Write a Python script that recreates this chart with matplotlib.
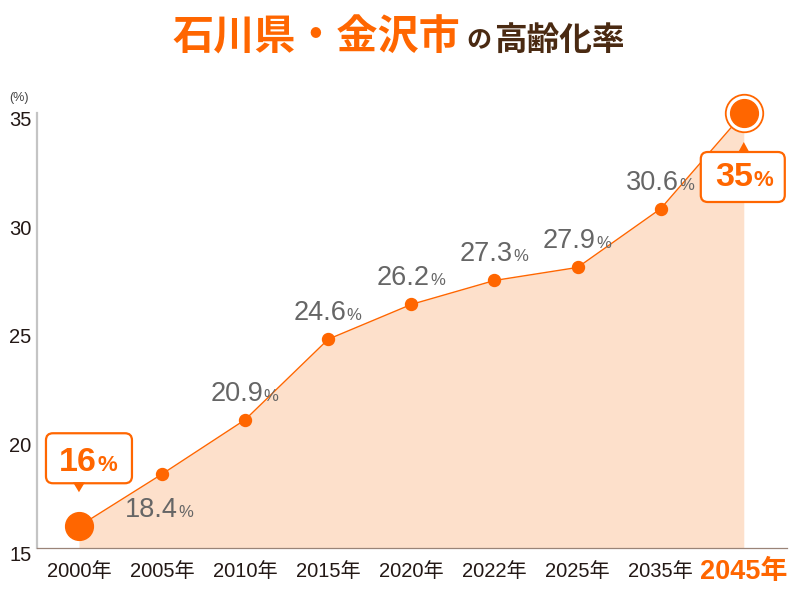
import matplotlib
matplotlib.use("Agg")
import matplotlib.pyplot as plt
from matplotlib.patches import FancyBboxPatch, Polygon
from matplotlib.transforms import ScaledTranslation

plt.rcParams['font.family'] = ['Liberation Sans', 'Noto Sans CJK JP', 'DejaVu Sans']

years = ["2000年", "2005年", "2010年", "2015年", "2020年", "2022年", "2025年", "2035年", "2045年"]
rates = [16.0, 18.4, 20.9, 24.6, 26.2, 27.3, 27.9, 30.6, 35.0]
labels = ["16", "18.4", "20.9", "24.6", "26.2", "27.3", "27.9", "30.6", "35"]
yticks = [15, 20, 25, 30, 35]

ORANGE = '#ff6600'
FILL = '#fde0cb'
GRAY = '#666666'
BROWN = '#4a2a12'

W, H = 796, 597
fig = plt.figure(figsize=(W / 100, H / 100), dpi=100)
ax = fig.add_axes([37 / W, 49 / H, 750 / W, 435 / H])
x = list(range(len(years)))

ax.fill_between(x, rates, 15, color=FILL, lw=0, zorder=1)
ax.plot(x, rates, color=ORANGE, lw=1.0, zorder=2)
ax.plot(x[1:-1], rates[1:-1], 'o', color=ORANGE, ms=8.6, zorder=3)
ax.plot(x[0], rates[0], 'o', color=ORANGE, ms=20, zorder=3, clip_on=False)
ax.plot(x[-1], rates[-1], 'o', mfc='white', mec=ORANGE, mew=1.3, ms=27, zorder=3, clip_on=False)
ax.plot(x[-1], rates[-1], 'o', color=ORANGE, ms=20, zorder=4, clip_on=False)

ax.set_xlim(-0.505, 8.52)
ax.set_ylim(15, 35)
ax.set_xticks(x)
ax.set_xticklabels(years, fontsize=14.5, color='#231815')
ax.set_yticks(yticks)
ax.set_yticklabels([str(v) for v in yticks], fontsize=14.5, color='#231815', va='top')
ax.tick_params(length=0)
ax.tick_params(axis='x', pad=10)
ax.tick_params(axis='y', pad=4)
lab = ax.get_xticklabels()[-1]
lab.set_color(ORANGE)
lab.set_fontweight('bold')
lab.set_fontsize(19.5)
lab.set_transform(lab.get_transform() + ScaledTranslation(0, 0.03, fig.dpi_scale_trans))
for t in ax.get_yticklabels():
    t.set_transform(t.get_transform() + ScaledTranslation(0, 0.02, fig.dpi_scale_trans))

for s in ['top', 'right']:
    ax.spines[s].set_visible(False)
ax.spines['left'].set_color('#c4c4c4')
ax.spines['left'].set_linewidth(1.6)
ax.spines['bottom'].set_color('#9a8478')
ax.spines['bottom'].set_linewidth(0.9)
ax.set_facecolor('none')


def tr(i):
    return fig.dpi_scale_trans + ScaledTranslation(x[i], rates[i], ax.transData)


# data labels
for i in range(1, len(years) - 1):
    if i == 1:
        dx, dy = 16, -43
    else:
        dx, dy = 18, 19
    ax.text(dx / 100, dy / 100, labels[i], transform=tr(i), ha='right', va='baseline',
            fontsize=19.5, color=GRAY, zorder=5)
    ax.text((dx + 0.5) / 100, dy / 100, "%", transform=tr(i), ha='left', va='baseline',
            fontsize=12, color=GRAY, zorder=5)


def callout(i, x0, y0, w, h, tri, num_dx, base_dy):
    t = tr(i)
    box = FancyBboxPatch((x0 / 100, y0 / 100), w / 100, h / 100,
                         boxstyle="round,pad=0,rounding_size=0.07",
                         fc='white', ec=ORANGE, lw=1.6, transform=t, zorder=6, clip_on=False)
    ax.add_patch(box)
    tri_p = Polygon([(p[0] / 100, p[1] / 100) for p in tri], closed=True, fc=ORANGE, ec='none',
                    transform=t, zorder=6, clip_on=False)
    ax.add_patch(tri_p)
    ax.text(num_dx / 100, base_dy / 100, labels[i], transform=t, ha='right', va='baseline',
            fontsize=24.5, fontweight='bold', color=ORANGE, zorder=7)
    ax.text((num_dx + 0.5) / 100, base_dy / 100, "%", transform=t, ha='left', va='baseline',
            fontsize=16, fontweight='bold', color=ORANGE, zorder=7)


callout(0, -33, 43, 86, 50, [(-6, 44), (6, 44), (0, 34)], 18, 55)
callout(8, -43, -89, 84, 50, [(-6, -40), (6, -40), (0, -29)], 9, -73)

# title
fig.text(172 / W, 1 - 38 / H, "石川県・金沢市", ha='left', va='center', fontsize=29.6,
         fontweight='bold', color=ORANGE, family=['Noto Sans CJK JP'])
fig.text(466 / W, 1 - 41 / H, "の", ha='left', va='center', fontsize=18,
         fontweight='bold', color=BROWN, family=['Noto Sans CJK JP'])
fig.text(494 / W, 1 - 40 / H, "高齢化率", ha='left', va='center', fontsize=23.5,
         fontweight='bold', color=BROWN, family=['Noto Sans CJK JP'])
fig.text(9 / W, 1 - 98 / H, "(%)", ha='left', va='center', fontsize=9, color='#444444')

fig.savefig("out.png", dpi=100)
